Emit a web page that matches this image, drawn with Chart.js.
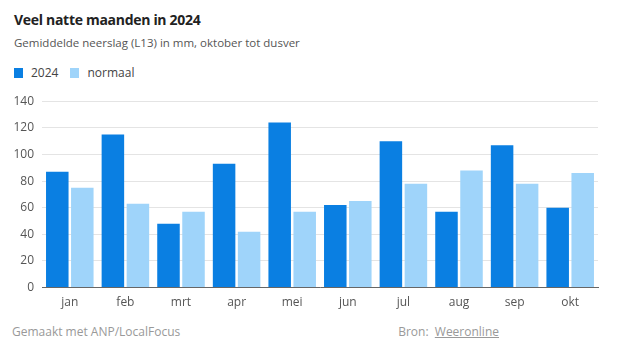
<!DOCTYPE html>
<html>
<head>
<meta charset="utf-8">
<script src="https://cdn.jsdelivr.net/npm/chart.js@4"></script>
<style>
  html, body { margin: 0; padding: 0; background: #fff; }
  body { width: 626px; height: 352px; position: relative; overflow: hidden; font-family: "Open Sans", sans-serif; }
  .title { position: absolute; left: 14px; top: 10px; font-size: 14px; font-weight: 700; color: #222; letter-spacing: -0.3px; }
  .subtitle { position: absolute; left: 14px; top: 35px; font-size: 11.5px; color: #555; }
  .legend { position: absolute; left: 14px; top: 64px; font-size: 12px; color: #444; display: flex; align-items: center; }
  .legend span.sw { display: inline-block; width: 9px; height: 10px; margin-right: 8px; }
  .legend span.lbl { margin-right: 12px; }
  .wrap { position: absolute; left: 0; top: 86px; width: 626px; height: 224px; }
  .footer { position: absolute; top: 323px; font-size: 12px; color: #999; }
  .footer a { color: #999; text-decoration: underline; }
</style>
</head>
<body>
<div class="title">Veel natte maanden in 2024</div>
<div class="subtitle">Gemiddelde neerslag (L13) in mm, oktober tot dusver</div>
<div class="legend" id="legend"></div>
<div class="wrap"><canvas id="chart"></canvas></div>
<div class="footer" style="left:12px">Gemaakt met ANP/LocalFocus</div>
<div class="footer" style="right:127px">Bron:&nbsp; <a>Weeronline</a></div>
<script>
const maanden = ['jan','feb','mrt','apr','mei','jun','jul','aug','sep','okt'];
const neerslag2024 = [87, 115, 48, 93, 124, 62, 110, 57, 107, 60];
const neerslagNormaal = [75, 63, 57, 42, 57, 65, 78, 88, 78, 86];
const yTicks = [0, 20, 40, 60, 80, 100, 120, 140];

const reeksen = [
  { label: '2024', data: neerslag2024, color: '#0a7fe2' },
  { label: 'normaal', data: neerslagNormaal, color: '#9fd4fa' }
];

const legend = document.getElementById('legend');
reeksen.forEach(r => {
  legend.insertAdjacentHTML('beforeend',
    `<span class="sw" style="background:${r.color}"></span><span class="lbl">${r.label}</span>`);
});

new Chart(document.getElementById('chart'), {
  type: 'bar',
  data: {
    labels: maanden,
    datasets: reeksen.map(r => ({
      label: r.label,
      data: r.data,
      backgroundColor: r.color,
      borderWidth: 0,
      categoryPercentage: 0.9,
      barPercentage: 0.9
    }))
  },
  options: {
    responsive: true,
    maintainAspectRatio: false,
    animation: false,
    layout: { padding: { top: 4, right: 28, left: 0, bottom: 0 } },
    plugins: { legend: { display: false }, tooltip: { enabled: false } },
    scales: {
      x: {
        grid: { display: false },
        border: { display: true, color: '#666', width: 1 },
        ticks: { color: '#555', font: { family: 'Open Sans', size: 12 }, padding: 0 }
      },
      y: {
        min: 0,
        max: yTicks[yTicks.length - 1],
        afterBuildTicks: axis => { axis.ticks = yTicks.map(v => ({ value: v })); },
        afterFit: axis => { axis.width = 42; },
        grid: { color: '#e4e4e4', drawTicks: false },
        border: { display: false },
        ticks: { color: '#555', font: { family: 'Open Sans', size: 12 }, padding: 8 }
      }
    }
  }
});
</script>
</body>
</html>
